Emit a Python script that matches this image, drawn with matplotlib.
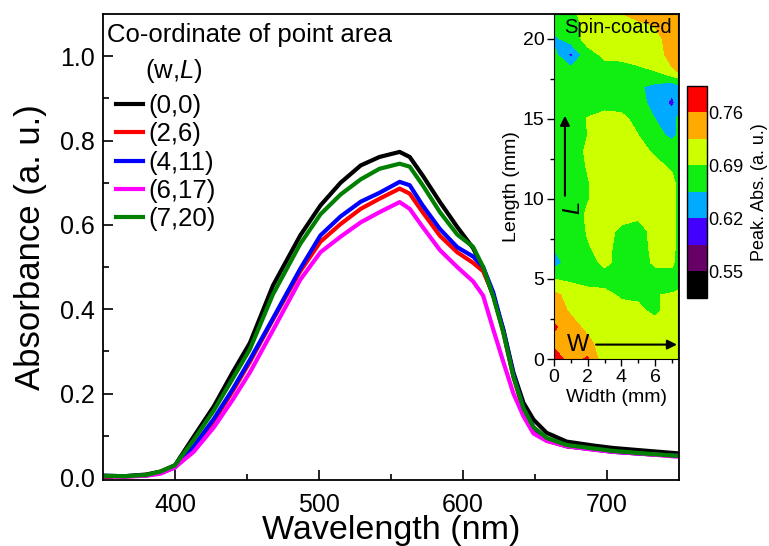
import matplotlib
matplotlib.use('Agg')
import matplotlib.pyplot as plt

plt.rcParams['font.family'] = ['Liberation Sans', 'DejaVu Sans']
plt.rcParams['mathtext.fontset'] = 'custom'
plt.rcParams['mathtext.rm'] = 'Liberation Sans'
plt.rcParams['mathtext.it'] = 'Liberation Sans:italic'

# absorbance spectra
wavelength = [350, 365, 380, 390, 400, 413, 427, 440, 452, 468, 487, 501, 515, 529, 542,
              556, 563, 572, 584, 596, 607, 614, 621, 628, 635, 642, 649, 658, 672, 690,
              704, 725, 750]
abs_0_0 = [0.005, 0.004, 0.008, 0.015, 0.030, 0.098, 0.170, 0.250, 0.320, 0.456, 0.575,
           0.646, 0.700, 0.741, 0.761, 0.773, 0.761, 0.717, 0.654, 0.595, 0.545, 0.495,
           0.432, 0.352, 0.250, 0.178, 0.138, 0.107, 0.086, 0.077, 0.071, 0.065, 0.058]
abs_2_6 = [0.004, 0.003, 0.006, 0.012, 0.025, 0.072, 0.135, 0.205, 0.275, 0.375, 0.490,
           0.560, 0.602, 0.638, 0.662, 0.686, 0.674, 0.630, 0.574, 0.535, 0.510, 0.490,
           0.435, 0.345, 0.240, 0.160, 0.115, 0.088, 0.075, 0.068, 0.062, 0.057, 0.052]
abs_4_11 = [0.005, 0.004, 0.006, 0.012, 0.025, 0.075, 0.140, 0.210, 0.280, 0.378, 0.496,
            0.575, 0.620, 0.655, 0.676, 0.702, 0.694, 0.646, 0.590, 0.547, 0.525, 0.500,
            0.440, 0.350, 0.245, 0.165, 0.120, 0.090, 0.075, 0.068, 0.062, 0.057, 0.052]
abs_6_17 = [0.004, 0.003, 0.005, 0.010, 0.025, 0.062, 0.120, 0.185, 0.250, 0.350, 0.470,
            0.535, 0.572, 0.606, 0.630, 0.654, 0.638, 0.595, 0.540, 0.500, 0.466, 0.432,
            0.352, 0.275, 0.200, 0.146, 0.105, 0.088, 0.075, 0.067, 0.062, 0.057, 0.050]
abs_7_20 = [0.005, 0.004, 0.007, 0.015, 0.030, 0.090, 0.160, 0.235, 0.305, 0.435, 0.555,
            0.625, 0.672, 0.708, 0.733, 0.745, 0.738, 0.694, 0.630, 0.577, 0.548, 0.500,
            0.430, 0.345, 0.240, 0.165, 0.120, 0.095, 0.078, 0.070, 0.064, 0.058, 0.052]

series = [abs_0_0, abs_2_6, abs_4_11, abs_6_17, abs_7_20]
labels = ['(0,0)', '(2,6)', '(4,11)', '(6,17)', '(7,20)']
colors = ['#000000', '#ff0000', '#0000ff', '#ff00ff', '#008000']

# peak absorbance map (rows = length, cols = width)
width_mm = [0, 1, 2, 3, 4, 5, 6, 7, 7.5]
length_mm = list(range(23))
peak_abs = [
    [0.780, 0.745, 0.765, 0.700, 0.705, 0.705, 0.705, 0.705, 0.690],
    [0.750, 0.745, 0.735, 0.705, 0.705, 0.700, 0.700, 0.700, 0.695],
    [0.765, 0.740, 0.715, 0.705, 0.700, 0.700, 0.700, 0.700, 0.695],
    [0.745, 0.720, 0.710, 0.705, 0.700, 0.695, 0.685, 0.700, 0.695],
    [0.735, 0.710, 0.700, 0.698, 0.686, 0.686, 0.689, 0.692, 0.695],
    [0.690, 0.684, 0.680, 0.678, 0.675, 0.675, 0.675, 0.678, 0.680],
    [0.640, 0.672, 0.680, 0.695, 0.682, 0.675, 0.695, 0.695, 0.675],
    [0.658, 0.672, 0.688, 0.700, 0.678, 0.675, 0.700, 0.700, 0.675],
    [0.668, 0.675, 0.692, 0.700, 0.684, 0.678, 0.700, 0.700, 0.675],
    [0.668, 0.672, 0.695, 0.705, 0.700, 0.696, 0.705, 0.700, 0.675],
    [0.668, 0.675, 0.688, 0.705, 0.705, 0.705, 0.705, 0.700, 0.675],
    [0.668, 0.675, 0.688, 0.705, 0.705, 0.705, 0.705, 0.700, 0.675],
    [0.668, 0.675, 0.692, 0.705, 0.705, 0.705, 0.700, 0.685, 0.675],
    [0.668, 0.675, 0.695, 0.705, 0.705, 0.700, 0.685, 0.672, 0.665],
    [0.668, 0.675, 0.690, 0.700, 0.700, 0.690, 0.665, 0.648, 0.660],
    [0.668, 0.672, 0.692, 0.700, 0.698, 0.680, 0.655, 0.645, 0.665],
    [0.668, 0.672, 0.675, 0.680, 0.678, 0.665, 0.645, 0.612, 0.640],
    [0.670, 0.672, 0.672, 0.672, 0.672, 0.660, 0.645, 0.630, 0.645],
    [0.672, 0.672, 0.675, 0.680, 0.682, 0.685, 0.690, 0.720, 0.730],
    [0.668, 0.610, 0.680, 0.695, 0.695, 0.700, 0.705, 0.740, 0.745],
    [0.645, 0.675, 0.700, 0.705, 0.705, 0.705, 0.710, 0.745, 0.750],
    [0.672, 0.678, 0.700, 0.705, 0.710, 0.720, 0.730, 0.745, 0.750],
    [0.672, 0.685, 0.705, 0.710, 0.735, 0.760, 0.785, 0.745, 0.750],
]
map_levels = [0.515, 0.55, 0.585, 0.62, 0.655, 0.69, 0.725, 0.76, 0.795]
map_colors = ['#000000', '#660066', '#4400ff', '#00aaff', '#11ee11', '#ccff00', '#ffaa00', '#ff0000']
cbar_ticks = [0.55, 0.62, 0.69, 0.76]

W, H = 769, 546
fig = plt.figure(figsize=(W / 100, H / 100), dpi=100)
ax = fig.add_axes([103 / W, 1 - 480 / H, 576 / W, 466 / H])

for y, c, lab in zip(series, colors, labels):
    ax.plot(wavelength, y, color=c, lw=3, label=lab)

ax.set_xlim(350, 750)
ax.set_ylim(-0.005, 1.1)
ax.set_xticks([400, 500, 600, 700])
ax.set_xticks([450, 550, 650], minor=True)
ax.set_yticks([0.0, 0.2, 0.4, 0.6, 0.8, 1.0])
ax.set_yticks([0.1, 0.3, 0.5, 0.7, 0.9], minor=True)
ax.set_yticklabels(['0.0', '0.2', '0.4', '0.6', '0.8', '1.0'])
ax.tick_params(which='both', direction='in', top=False, right=False, width=1.2)
ax.tick_params(which='major', length=7, labelsize=18)
ax.tick_params(axis='x', which='major', pad=9)
ax.tick_params(axis='y', which='major', pad=6)
ax.tick_params(which='minor', length=4)
for s in ax.spines.values():
    s.set_linewidth(1.3)
ax.set_xlabel('Wavelength (nm)', fontsize=24.5, labelpad=-1)
ax.set_ylabel('Absorbance (a. u.)', fontsize=25, labelpad=9)

fig.text(107 / W, 1 - 35 / H, 'Co-ordinate of point area', fontsize=18.5, va='center', ha='left')
fig.text(145 / W, 1 - 71 / H, r'(w,$\mathit{L}$)', fontsize=18.5, va='center', ha='left')
ax.legend(loc='upper left', bbox_to_anchor=(116 / W, 1 - 94 / H), bbox_transform=fig.transFigure,
          frameon=False, fontsize=18.5, handlelength=1.05, handletextpad=0.2,
          labelspacing=0.17, borderpad=0, borderaxespad=0)

# inset map
axi = fig.add_axes([554 / W, 1 - 359 / H, 124 / W, 345 / H])
cf = axi.contourf(width_mm, length_mm, peak_abs, levels=map_levels, colors=map_colors)
axi.set_xlim(0, 7.36)
axi.set_ylim(0, 21.56)
axi.set_xticks([0, 2, 4, 6])
axi.set_xticks([1, 3, 5, 7], minor=True)
axi.set_yticks([0, 5, 10, 15, 20])
axi.set_yticks([2.5, 7.5, 12.5, 17.5], minor=True)
axi.tick_params(which='both', direction='out', width=1)
axi.tick_params(which='major', length=5, labelsize=14, pad=2)
axi.tick_params(which='minor', length=3)
axi.set_xlabel('Width (mm)', fontsize=14, labelpad=2)
axi.set_ylabel('Length (mm)', fontsize=14, labelpad=2)
axi.text(0.6, 20.7, 'Spin-coated', fontsize=14.5, ha='left', va='center')
axi.text(1.45, 0.9, 'W', fontsize=17, ha='center', va='center')
axi.text(1.1, 9.5, 'L', fontsize=17, style='italic', rotation=90, ha='center', va='center')
axi.annotate('', xy=(7.3, 0.9), xytext=(2.5, 0.9),
             arrowprops=dict(arrowstyle='-|>', color='k', lw=1.5, mutation_scale=14,
                             shrinkA=0, shrinkB=0))
axi.annotate('', xy=(0.65, 15.2), xytext=(0.65, 10.2),
             arrowprops=dict(arrowstyle='-|>', color='k', lw=1.5, mutation_scale=14,
                             shrinkA=0, shrinkB=0))

cax = fig.add_axes([687 / W, 1 - 298 / H, 20 / W, 212 / H])
cb = fig.colorbar(cf, cax=cax, ticks=cbar_ticks)
cb.ax.tick_params(length=0, labelsize=13, pad=1)
cb.set_label('Peak. Abs. (a. u.)', fontsize=13, labelpad=5)
cb.outline.set_linewidth(1)

fig.savefig('out.png', dpi=100)
